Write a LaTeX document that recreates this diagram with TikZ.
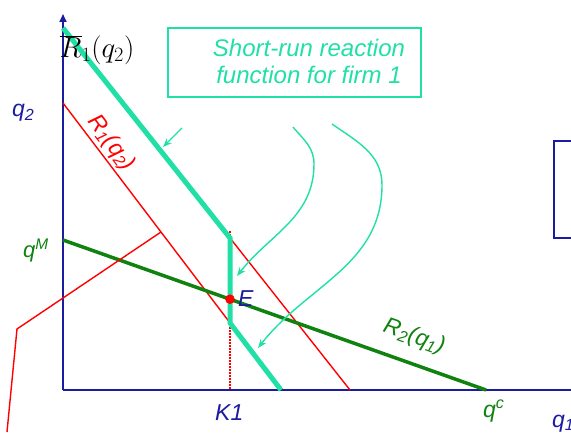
\RequirePackage{fix-cm}
\documentclass[tikz,border=0pt]{standalone}
\usepackage{fontspec}
\setmainfont{Liberation Sans}
\usetikzlibrary{arrows.meta, positioning, calc}

\definecolor{axisblue}{RGB}{28,28,160}
\definecolor{srteal}{RGB}{32,224,166}
\definecolor{rgreen}{RGB}{16,130,16}

\begin{document}
\begin{tikzpicture}[
        x=1pt, y=1pt,
        % line styles
        axis/.style={draw=axisblue, line width=1.8pt, -{Triangle[length=8pt, width=7pt]}},
        shortrun/.style={draw=srteal, line width=5pt},
        reaction/.style={draw=red, line width=1.4pt},
        reactiontwo/.style={draw=rgreen, line width=3.5pt},
        pointer/.style={draw=srteal, line width=1.4pt, -{Stealth[length=9pt, width=7pt]}},
        % text styles
        lbl/.style={font=\fontsize{23}{26}\selectfont\itshape, inner sep=0pt},
        infobox/.style={draw=srteal, line width=2pt, minimum width=253pt, minimum height=69pt, inner sep=0pt}
    ]
    \useasboundingbox (0,0) rectangle (571,432);

    % --- 1. AXES ---
    \coordinate (O) at (63,42);
    \coordinate (ytop) at (63,418);
    \coordinate (xend) at (580,42);
    \draw[axis] (O) -- (ytop);
    \draw[axis] (O) -- (xend);

    % --- 2. CURVES ---
    % capacity K1 (behind the curves)
    \coordinate (ktop) at (230,201);
    \coordinate (K) at (230,42);
    \draw[draw=red, line width=1.2pt, dash pattern=on 1.5pt off 1.5pt] (ktop) -- (K);

    % R1(q2) and its shifted copy
    \coordinate (rA) at (63,329);
    \coordinate (rB) at (281,42);
    \coordinate (kink) at (230,194);
    \coordinate (kinklow) at (230,109);
    \coordinate (rC) at (350,42);
    \draw[reaction] (rA) -- (rB);
    \draw[reaction] (kink) -- (rC);

    % R2(q1)
    \coordinate (qM) at (63,192);
    \coordinate (qc) at (486,42);
    \draw[reactiontwo] (qM) -- (qc);

    % short-run reaction function
    \coordinate (sA) at (63,404);
    \draw[shortrun] (sA) -- (kink) -- (kinklow) -- (rB);

    % callout line
    \coordinate (cA) at (7,0);
    \coordinate (cB) at (17,103);
    \coordinate (cC) at (161,200);
    \draw[reaction] (cA) -- (cB) -- (cC);

    % equilibrium
    \fill[red] (230,132.8) circle (4.8pt) coordinate (Ept);

    % --- 3. BOXES ---
    \node[infobox] (srbox) at (294.5,369.5) {};
    \node[lbl, text=srteal, align=center, font=\fontsize{24}{27}\selectfont\itshape] (srtext) at (309,371)
        {Short-run reaction\\function for firm 1};
    \draw[axisblue, line width=2pt] (600,291) -| (554,194) -- (600,194);

    % pointers from the box
    \coordinate (p1) at (182,304);
    \coordinate (p1end) at (163,285);
    \draw[pointer] (p1) -- (p1end);
    \coordinate (p2) at (293,305);
    \coordinate (p2mid) at (314,268);
    \coordinate (p2end) at (237,156);
    \draw[pointer] (p2) to[out=-50,in=90] (p2mid) to[out=-90,in=52] (p2end);
    \coordinate (p3) at (332,308);
    \coordinate (p3mid) at (382,247);
    \coordinate (p3end) at (258,84);
    \draw[pointer] (p3) to[out=-35,in=90] (p3mid) to[out=-90,in=52] (p3end);

    % --- 4. LABELS ---
    \node[font=\fontsize{29}{31}\selectfont] (rbar) at (97,382) {$\overline{R}_1(q_2)$};
    \node[lbl, text=axisblue, anchor=base west] (lq2) at (12,315) {q\textsubscript{2}};
    \node[lbl, text=rgreen, anchor=base west, font=\fontsize{22}{24}\selectfont\itshape] (lqM) at (23,175) {q\textsuperscript{M}};
    \node[lbl, text=red, rotate=-53] (lR1) at (111,289) {R\textsubscript{1}(q\textsubscript{2})};
    \node[lbl, text=axisblue, anchor=base west] (lE) at (238,126) {E};
    \node[lbl, text=rgreen, rotate=-19.5] (lR2) at (414,95) {R\textsubscript{2}(q\textsubscript{1})};
    \node[lbl, text=axisblue, anchor=base west] (lK) at (215,12) {K1};
    \node[lbl, text=rgreen, anchor=base west] (lqc) at (483,15) {q\textsuperscript{c}};
    \node[lbl, text=axisblue, anchor=base west] (lq1) at (552,5) {q\textsubscript{1}};

\end{tikzpicture}
\end{document}
